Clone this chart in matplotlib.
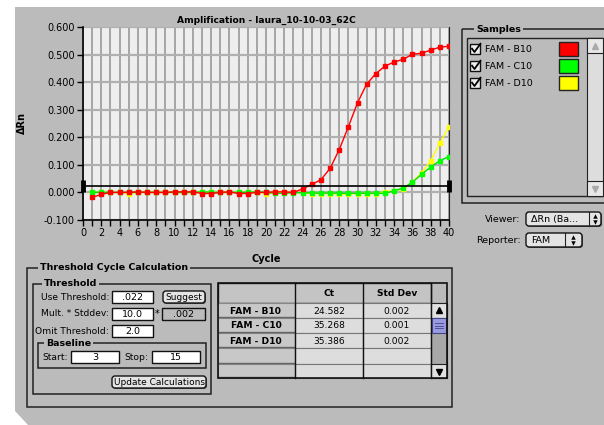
import numpy as np
import matplotlib
matplotlib.use("Agg")
import matplotlib.pyplot as plt
from matplotlib.patches import Rectangle, FancyBboxPatch, Polygon

plt.rcParams['font.family'] = ['DejaVu Sans']
plt.rcParams['axes.unicode_minus'] = False

# DATA
cycles = list(range(1, 41))
b10 = [-0.018, -0.007, 0.000, 0.000, 0.000, 0.002, 0.000, 0.000, 0.000, 0.002,
       0.002, 0.002, -0.004, -0.004, 0.000, 0.002, -0.004, -0.004, 0.000, 0.000,
       0.002, 0.002, 0.000, 0.013, 0.029, 0.046, 0.087, 0.155, 0.238, 0.325,
       0.393, 0.431, 0.458, 0.473, 0.483, 0.501, 0.505, 0.516, 0.527, 0.530]
c10 = [0.000, 0.000, 0.000, 0.000, 0.000, 0.000, 0.000, 0.000, 0.000, 0.000,
       0.000, 0.000, 0.002, 0.000, 0.000, 0.000, 0.000, 0.000, 0.002, 0.000,
       -0.003, -0.003, -0.001, -0.001, -0.002, -0.003, -0.002, -0.003, -0.003, -0.003,
       -0.003, -0.003, -0.003, 0.006, 0.016, 0.037, 0.066, 0.092, 0.115, 0.130]
d10 = [0.000, 0.000, 0.000, 0.000, -0.004, 0.000, 0.000, 0.000, 0.000, 0.000,
       0.000, 0.000, 0.000, 0.000, 0.000, 0.000, 0.000, 0.000, 0.000, -0.004,
       0.000, 0.000, 0.000, 0.000, -0.004, -0.004, -0.004, -0.006, -0.006, -0.004,
       -0.004, -0.004, 0.002, 0.006, 0.013, 0.037, 0.071, 0.115, 0.179, 0.239]
threshold = 0.022

sample_names = ["FAM - B10", "FAM - C10", "FAM - D10"]
sample_colors = ["#ff0000", "#00ff00", "#ffff00"]
ct_values = ["24.582", "35.268", "35.386"]
std_values = ["0.002", "0.001", "0.002"]

W, H = 604, 425
BG = "#bbbbbb"

fig = plt.figure(figsize=(W / 100, H / 100), dpi=100)
fig.patch.set_facecolor("white")

# full figure axes in pixel units for the window chrome
ui = fig.add_axes([0, 0, 1, 1])
ui.set_xlim(0, W)
ui.set_ylim(H, 0)
ui.axis("off")

ui.add_patch(Polygon([(15, 7), (W, 7), (W, H), (28, H), (15, 411)],
                     closed=True, facecolor=BG, edgecolor="none", zorder=0))


def box(x0, y0, x1, y1, fc="none", ec="#222222", lw=1.0, z=2):
    ui.add_patch(Rectangle((x0, y0), x1 - x0, y1 - y0, facecolor=fc,
                           edgecolor=ec, linewidth=lw, zorder=z))


def group(x0, y0, x1, y1, title, tx):
    box(x0, y0, x1, y1, lw=1.1)
    ui.text(tx, y0, title, fontsize=6.8, fontweight="bold", ha="left",
            va="center", zorder=5,
            bbox=dict(facecolor=BG, edgecolor="none", pad=1.2))


def field(x0, y0, x1, y1, txt, fc="white"):
    box(x0, y0, x1, y1, fc=fc, ec="#111111", lw=1.0, z=3)
    ui.text((x0 + x1) / 2, (y0 + y1) / 2 + 0.5, txt, fontsize=6.8,
            ha="center", va="center", zorder=4)


def button(x0, y0, x1, y1, txt):
    ui.add_patch(FancyBboxPatch((x0 + 1, y0 + 1), x1 - x0, y1 - y0,
                                boxstyle="round,pad=0,rounding_size=3",
                                facecolor="#555555", edgecolor="none", zorder=3))
    ui.add_patch(FancyBboxPatch((x0, y0), x1 - x0, y1 - y0,
                                boxstyle="round,pad=0,rounding_size=3",
                                facecolor="#e4e4e4", edgecolor="#111111",
                                linewidth=1.0, zorder=4))
    ui.text((x0 + x1) / 2, (y0 + y1) / 2 + 0.5, txt, fontsize=6.5,
            ha="center", va="center", zorder=5)


def updown(x, yc):
    # little up/down arrows of a popup menu
    ui.plot([x], [yc - 2.6], marker="^", markersize=3.2, color="black",
            zorder=6, markeredgewidth=0)
    ui.plot([x], [yc + 2.6], marker="v", markersize=3.2, color="black",
            zorder=6, markeredgewidth=0)


# ---------------- chart ----------------
ax = fig.add_axes([83 / W, 1 - 220 / H, (449 - 83) / W, (220 - 27) / H])
ax.set_facecolor("#eeeeee")
ax.set_xlim(0, 40)
ax.set_ylim(-0.1, 0.6)
ax.set_xticks(range(0, 41, 2))
ax.set_xticks(range(1, 40, 2), minor=True)
ax.set_yticks(np.arange(-0.1, 0.61, 0.1))
ax.set_yticklabels(["%.3f" % v for v in np.arange(-0.1, 0.61, 0.1)])
ax.tick_params(axis="both", which="both", length=4, width=1, labelsize=7,
               colors="black", direction="out", pad=2)
ax.grid(True, axis="x", which="both", color="#a0a0a0", linewidth=1.3)
ax.grid(True, axis="y", which="major", color="#b0b0b0", linewidth=1.6)
ax.set_axisbelow(True)
ax.spines["top"].set_visible(False)
ax.spines["right"].set_color("#222222")
for s in ["left", "bottom"]:
    ax.spines[s].set_linewidth(1.2)

ax.set_title("Amplification - laura_10-10-03_62C", fontsize=6.6,
             fontweight="bold", pad=3)
ax.set_xlabel("Cycle", fontsize=7, fontweight="bold", labelpad=11)
ax.set_ylabel("ΔRn", fontsize=7, fontweight="bold", labelpad=12)

for vals, col in [(d10, "#ffff00"), (c10, "#00dd00"), (b10, "#ff0000")]:
    mfc = "#00ff00" if col == "#00dd00" else col
    ax.plot(cycles, vals, color=col, linewidth=1.0, marker="s",
            markersize=3.5, markerfacecolor=mfc, markeredgecolor=mfc, zorder=3)

ax.plot([0, 40], [threshold, threshold], color="black", linewidth=1.2,
        zorder=4, clip_on=False)
ax.plot([0, 40], [threshold, threshold], linestyle="none", marker="|",
        markersize=8, markeredgewidth=3.5, color="black", zorder=5,
        clip_on=False)

# ---------------- samples panel ----------------
group(462, 29, 606, 203, "Samples", 476)
box(467, 38, 603, 196, lw=1.0)
box(587, 38, 603, 196, fc="#dddddd", ec="#222222", lw=0.8, z=3)
box(587, 38, 603, 53, fc="#e8e8e8", ec="#222222", lw=0.8, z=3)
box(587, 181, 603, 196, fc="#e8e8e8", ec="#222222", lw=0.8, z=3)
ui.plot([595], [46], marker="^", markersize=4, color="#aaaaaa", zorder=4)
ui.plot([595], [189], marker="v", markersize=4, color="#aaaaaa", zorder=4)

for i, (name, col) in enumerate(zip(sample_names, sample_colors)):
    yc = 49 + i * 17
    box(470, yc - 5, 480, yc + 5, fc="#eeeeee", ec="#111111", lw=1.0, z=3)
    ui.plot([471.5, 474.5, 481], [yc - 1, yc + 3, yc - 6], color="black",
            linewidth=1.3, zorder=4, solid_capstyle="butt")
    ui.text(485, yc + 0.5, name, fontsize=6.8, ha="left", va="center")
    box(559, yc - 7, 578, yc + 7, fc=col, ec="#222222", lw=1.0, z=3)

# viewer / reporter popups
ui.text(520, 219, "Viewer:", fontsize=6.8, ha="right", va="center")
button(526, 212, 601, 226, "")
ui.text(531, 219.5, "ΔRn (Ba...", fontsize=6.8, ha="left", va="center", zorder=6)
ui.plot([589, 589], [212, 226], color="#222222", linewidth=0.8, zorder=6)
updown(595, 219)

ui.text(521, 240, "Reporter:", fontsize=6.8, ha="right", va="center")
button(526, 233, 582, 247, "")
ui.text(541, 240.5, "FAM", fontsize=6.8, ha="center", va="center", zorder=6)
ui.plot([565, 565], [233, 247], color="#222222", linewidth=0.8, zorder=6)
updown(573, 240)

# ---------------- threshold cycle calculation ----------------
group(27, 268, 452, 407, "Threshold Cycle Calculation", 40)
group(33, 284, 211, 394, "Threshold", 44)

ui.text(109, 297.5, "Use Threshold:", fontsize=6.6, ha="right", va="center")
field(112, 291, 153, 303, ".022")
button(163, 291, 205, 303, "Suggest")

ui.text(109, 314, "Mult. * Stddev:", fontsize=6.6, ha="right", va="center")
field(112, 308, 153, 320, "10.0")
ui.text(157, 314.5, "*", fontsize=7, ha="center", va="center")
field(162, 308, 205, 320, ".002", fc=BG)

ui.text(109, 331, "Omit Threshold:", fontsize=6.6, ha="right", va="center")
field(112, 325, 153, 337, "2.0")

group(38, 343, 206, 368, "Baseline", 46)
ui.text(42, 357.5, "Start:", fontsize=6.6, ha="left", va="center")
field(71, 351, 119, 363, "3")
ui.text(148, 357.5, "Stop:", fontsize=6.6, ha="right", va="center")
field(152, 351, 200, 363, "15")

button(112, 376, 206, 388, "Update Calculations")

# results table
col_x = [218, 295, 363, 431, 447]
row_y = [283, 303, 318, 333, 348, 364, 378]
box(col_x[0], row_y[0], col_x[3], row_y[1], fc="#c4c4c4", ec="#222222", z=3)
ui.text((col_x[1] + col_x[2]) / 2, 293.5, "Ct", fontsize=6.6,
        fontweight="bold", ha="center", va="center", zorder=5)
ui.text((col_x[2] + col_x[3]) / 2, 293.5, "Std Dev", fontsize=6.6,
        fontweight="bold", ha="center", va="center", zorder=5)
for i in range(5):
    y0, y1 = row_y[i + 1], row_y[i + 2]
    box(col_x[0], y0, col_x[1], y1, fc="#c8c8c8", ec="#888888", lw=0.8, z=3)
    ui.plot([col_x[0] + 1, col_x[1] - 1], [y1 - 0.8, y1 - 0.8],
            color="#666666", linewidth=1.0, zorder=4)
    box(col_x[1], y0, col_x[2], y1, fc="#dddddd", ec="#777777", lw=0.8, z=3)
    box(col_x[2], y0, col_x[3], y1, fc="#dddddd", ec="#777777", lw=0.8, z=3)
for i, name in enumerate(sample_names):
    yc = (row_y[i + 1] + row_y[i + 2]) / 2 + 0.5
    ui.text(col_x[0] + 38, yc, name, fontsize=6.6, fontweight="bold",
            ha="center", va="center", zorder=5)
    ui.text((col_x[1] + col_x[2]) / 2, yc, ct_values[i], fontsize=6.6,
            ha="center", va="center", zorder=5)
    ui.text((col_x[2] + col_x[3]) / 2, yc, std_values[i], fontsize=6.6,
            ha="center", va="center", zorder=5)
for cx in col_x[1:4]:
    ui.plot([cx, cx], [row_y[0], row_y[-1]], color="#111111",
            linewidth=1.0, zorder=5)
# table scrollbar
box(col_x[3], row_y[1], col_x[4], row_y[-1], fc="#a8a8a8", ec="#222222", lw=0.8, z=3)
box(col_x[3], row_y[1], col_x[4], row_y[2], fc="#e0e0e0", ec="#222222", lw=0.8, z=4)
box(col_x[3], row_y[-1] - 14, col_x[4], row_y[-1], fc="#e0e0e0", ec="#222222", lw=0.8, z=4)
box(col_x[3] + 1, row_y[2], col_x[4] - 1, row_y[3], fc="#9a9ae0", ec="#444488", lw=0.8, z=5)
for k in range(3):
    ui.plot([col_x[3] + 4, col_x[4] - 4], [row_y[2] + 5 + 2.5 * k] * 2,
            color="#444488", linewidth=0.6, zorder=6)
ui.plot([439], [310], marker="^", markersize=4, color="black", zorder=6)
ui.plot([439], [371.5], marker="v", markersize=4, color="black", zorder=6)
box(col_x[0], row_y[0], col_x[4], row_y[-1], ec="#111111", lw=1.2, z=6)

fig.savefig("out.png", dpi=100, facecolor=fig.get_facecolor())
